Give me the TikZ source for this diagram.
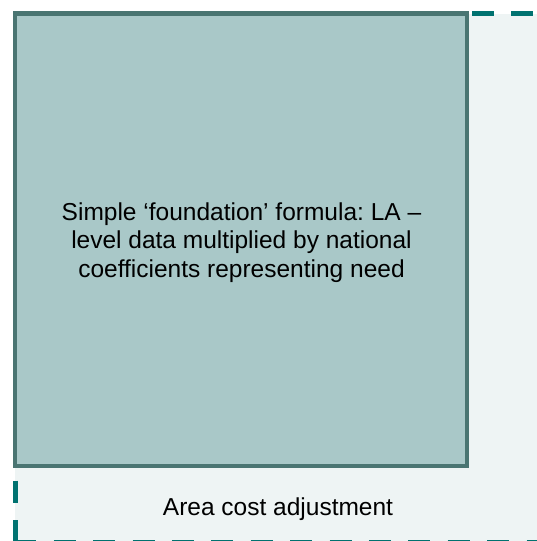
\documentclass[tikz,border=0pt]{standalone}
\usepackage{fontspec}
\setmainfont{Liberation Sans}
\usepackage{xcolor}
\usepackage{tikz}
\usetikzlibrary{positioning}
\definecolor{coreFill}{RGB}{169,200,200}
\definecolor{coreEdge}{RGB}{74,117,114}
\definecolor{adjFill}{RGB}{238,244,244}
\definecolor{adjEdge}{RGB}{0,114,112}
\frenchspacing
\tikzset{
  adjbox/.style={rectangle, draw=adjEdge, fill=adjFill, line width=5pt,
                 dash pattern=on 22pt off 17.4pt, dash phase=0.7pt,
                 minimum width=526pt, minimum height=529pt,
                 inner sep=0pt},
  corebox/.style={rectangle, draw=coreEdge, fill=coreFill, line width=4.5pt,
                  minimum width=452pt, minimum height=452.5pt,
                  inner sep=0pt},
  txt/.style={inner sep=0pt, align=center, text=black,
              font=\fontsize{24.5}{28.5}\selectfont},
}
\begin{document}
\begin{tikzpicture}[x=1pt, y=-1pt]
  \clip (0,0) rectangle (537,541);
  %% area cost adjustment (outer, dashed)
  \node[adjbox] (adj) at (278,278) {};
  \node[txt, anchor=base] (adjtxt) at (278,515) {Area cost adjustment};
  %% foundation formula (inner)
  \node[corebox] (found) at (241,239.75) {};
  \node[txt] (foundtxt) at (241.5,242.5)
    {Simple `foundation' formula: LA --\\level data multiplied by national\\coefficients representing need};
\end{tikzpicture}
\end{document}
